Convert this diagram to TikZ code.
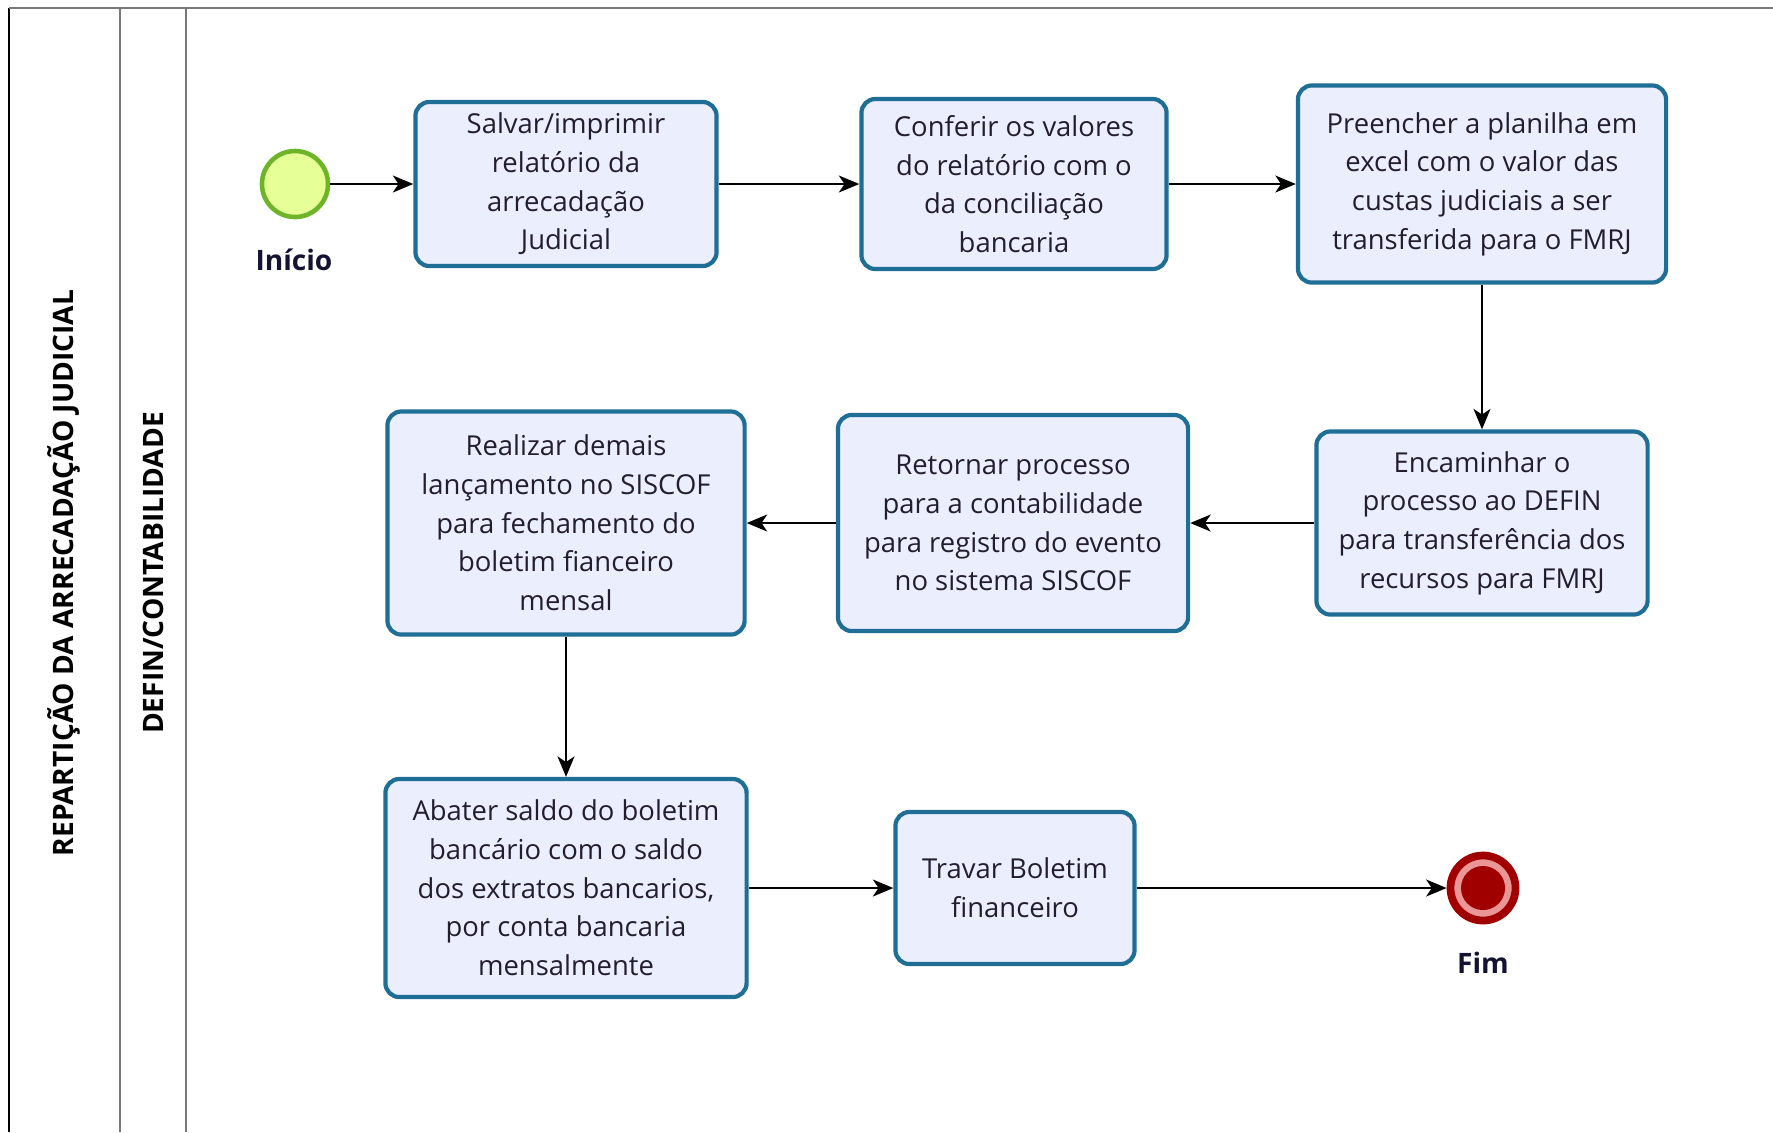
\documentclass[tikz,border=0pt]{standalone}
\usepackage{fontspec}
\setmainfont{Open Sans}
\usetikzlibrary{arrows.meta}

\begin{document}
\begin{tikzpicture}[x=0.01cm, y=-0.01cm, >={Stealth[length=5.8pt,width=4.8pt,inset=1.6pt]}, line width=0.7pt]
        % Colores
        \definecolor{taskblue}{RGB}{30, 110, 150}
        \definecolor{taskfill}{RGB}{234, 238, 253}
        \definecolor{startgreen}{RGB}{110, 180, 40}
        \definecolor{startfill}{RGB}{230, 255, 150}
        \definecolor{endred}{RGB}{160, 0, 0}
        \definecolor{endpink}{RGB}{235, 150, 150}
        \definecolor{lanegray}{RGB}{120, 120, 120}
        \definecolor{labelnavy}{RGB}{20, 20, 50}
        \definecolor{tasktext}{RGB}{35, 30, 45}

        \tikzset{
            task/.style={draw=taskblue, fill=taskfill, line width=1.2pt, rounded corners=0.14cm, align=center, text=tasktext, font=\fontsize{7.8}{11}\selectfont, inner sep=2pt},
            eventlabel/.style={font=\bfseries\fontsize{8}{10}\selectfont, text=labelnavy},
            lanetitle/.style={font=\bfseries\fontsize{8}{10}\selectfont, rotate=90}
        }

        \useasboundingbox (0,0) rectangle (1773,1132);

        % Carriles
        \draw[black, line width=0.8pt] (9,1132) -- (9,8);
        \draw[lanegray, line width=0.8pt] (9,8) -- (1773,8);
        \draw[lanegray, line width=0.8pt] (120,8) -- (120,1132);
        \draw[lanegray, line width=0.8pt] (186,8) -- (186,1132);
        \node[lanetitle] (pool) at (64,573) {REPARTIÇÃO DA ARRECADAÇÃO JUDICIAL};
        \node[lanetitle] (lane) at (153,573) {DEFIN/CONTABILIDADE};

        % Eventos
        \node[draw=startgreen, fill=startfill, circle, line width=1.3pt, minimum size=0.66cm, inner sep=0pt] (inicio) at (295,184) {};
        \node[eventlabel] (inicio-txt) at (294,260) {Início};
        \node[draw=endred, fill=endpink, circle, line width=2.2pt, minimum size=0.65cm, inner sep=0pt] (fim) at (1483,888) {};
        \fill[endred] (fim.center) circle (0.22cm);
        \node[eventlabel] (fim-txt) at (1483,963) {Fim};

        % Tareas
        \node[task, minimum width=3.01cm, minimum height=1.64cm] (salvar) at (566,184) {Salvar/imprimir\\relatório da\\arrecadação\\Judicial};
        \node[task, minimum width=3.05cm, minimum height=1.70cm] (conferir) at (1014,184) {Conferir os valores\\do relatório com o\\da conciliação\\bancaria};
        \node[task, minimum width=3.68cm, minimum height=1.97cm] (preencher) at (1482,184) {Preencher a planilha em\\excel com o valor das\\custas judiciais a ser\\transferida para o FMRJ};
        \node[task, minimum width=3.31cm, minimum height=1.83cm] (encaminhar) at (1482,523) {Encaminhar o\\processo ao DEFIN\\para transferência dos\\recursos para FMRJ};
        \node[task, minimum width=3.50cm, minimum height=2.16cm] (retornar) at (1013,523) {Retornar processo\\para a contabilidade\\para registro do evento\\no sistema SISCOF};
        \node[task, minimum width=3.57cm, minimum height=2.23cm] (realizar) at (566,523) {Realizar demais\\lançamento no SISCOF\\para fechamento do\\boletim fianceiro\\mensal};
        \node[task, minimum width=3.61cm, minimum height=2.18cm] (abater) at (566,888) {Abater saldo do boletim\\bancário com o saldo\\dos extratos bancarios,\\por conta bancaria\\mensalmente};
        \node[task, minimum width=2.39cm, minimum height=1.52cm] (travar) at (1015,888) {Travar Boletim\\financeiro};

        % Flujos
        \draw[->] (inicio) -- (salvar);
        \draw[->] (salvar) -- (conferir);
        \draw[->] (conferir) -- (preencher);
        \draw[->] (preencher) -- (encaminhar);
        \draw[->] (encaminhar) -- (retornar);
        \draw[->] (retornar) -- (realizar);
        \draw[->] (realizar) -- (abater);
        \draw[->] (abater) -- (travar);
        \draw[->] (travar) -- (fim);

    \end{tikzpicture}
\end{document}
